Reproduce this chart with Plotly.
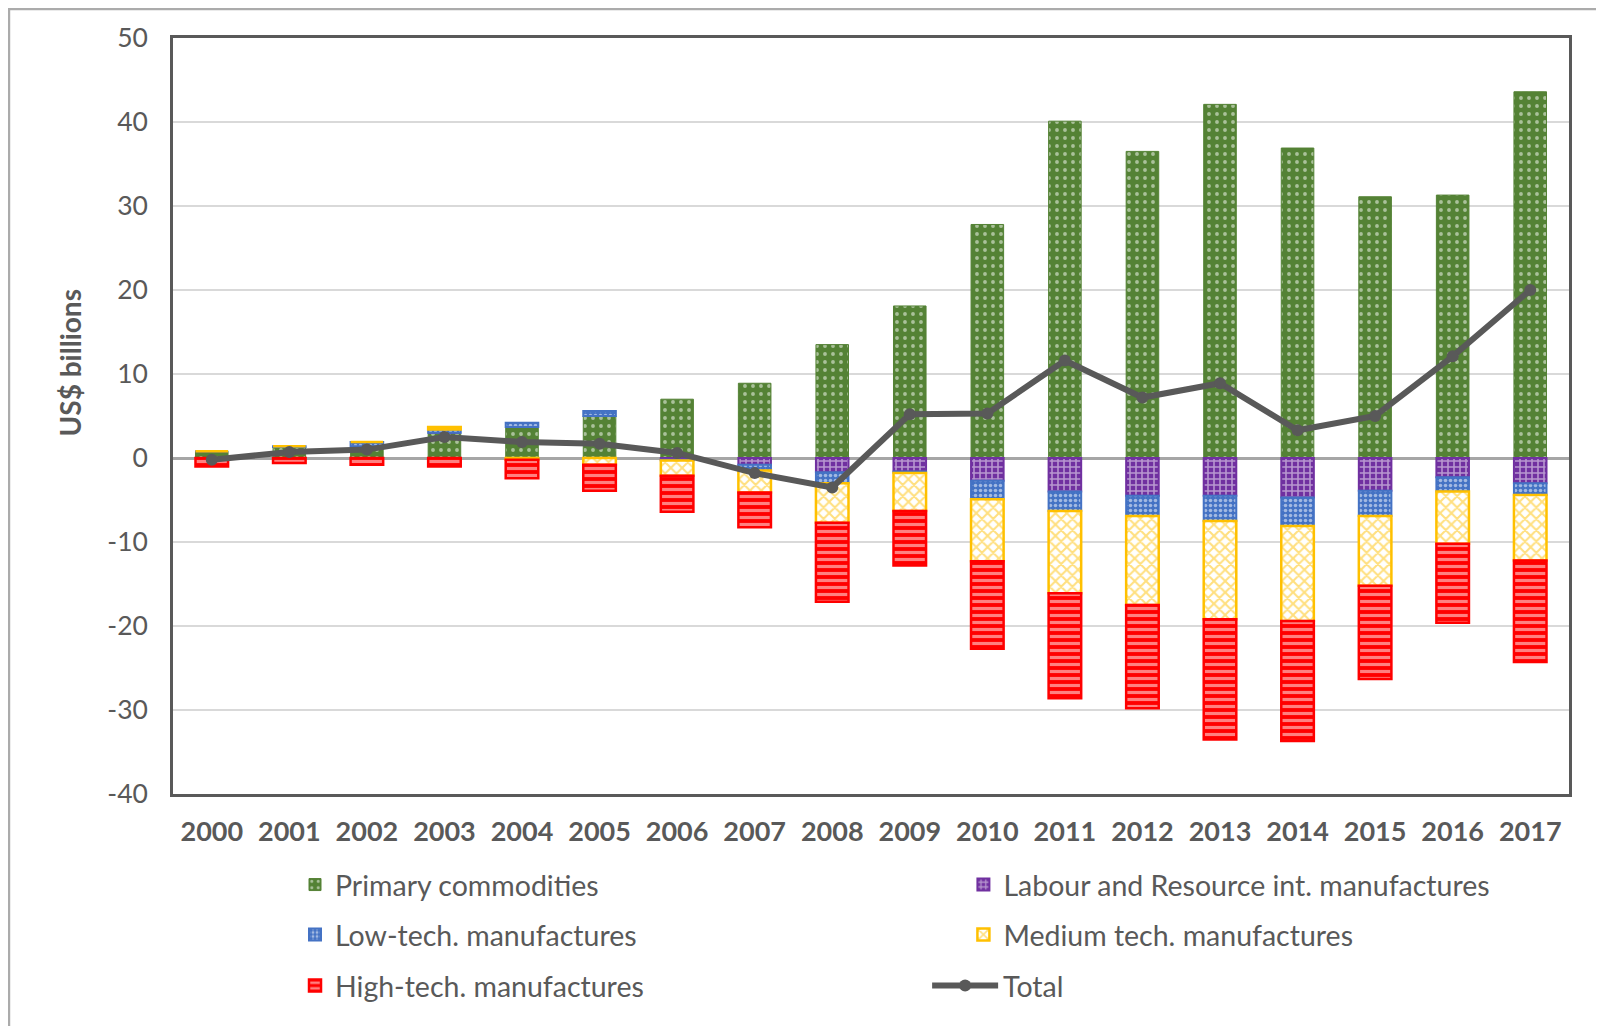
import plotly.graph_objects as go

years = [str(y) for y in range(2000, 2018)]

primary = [0.8, 1.3, 1.4, 3.0, 3.7, 5.0, 7.0, 8.9, 13.5, 18.1, 27.8, 40.1, 36.5, 42.1, 36.9, 31.1, 31.3, 43.6]
labour = [0.0, 0.0, 0.0, 0.0, 0.0, 0.0, -0.2, -0.8, -1.7, -1.6, -2.7, -4.0, -4.5, -4.5, -4.7, -3.9, -2.3, -3.0]
lowtech = [0.0, 0.1, 0.5, 0.4, 0.5, 0.6, -0.1, -0.7, -1.3, -0.2, -2.2, -2.3, -2.4, -3.0, -3.4, -3.0, -1.7, -1.4]
medium = [0.0, 0.0, 0.0, 0.3, -0.2, -0.8, -1.8, -2.6, -4.7, -4.5, -7.4, -9.8, -10.6, -11.7, -11.3, -8.3, -6.2, -7.8]
hightech = [-1.0, -0.6, -0.8, -1.0, -2.2, -3.1, -4.3, -4.15, -9.4, -6.5, -10.4, -12.5, -12.3, -14.3, -14.3, -11.1, -9.4, -12.1]
total = [-0.2, 0.7, 1.0, 2.5, 1.9, 1.7, 0.6, -1.8, -3.5, 5.2, 5.3, 11.6, 7.2, 8.9, 3.3, 5.0, 12.1, 20.0]

y_tickvals = [50, 40, 30, 20, 10, 0, -10, -20, -30, -40]
y_ticktext = ["50", "40", "30", "20", "10", "0", "-10", "-20", "-30", "-40"]

FONT = "Lato"
GREY = "#595959"

fig = go.Figure()

fig.add_trace(go.Bar(
    x=years, y=primary, name="Primary commodities", legend="legend",
    marker=dict(color="#548235", line=dict(color="#548235", width=1),
                pattern=dict(shape=".", fgcolor="white", size=8, solidity=0.18)),
))
fig.add_trace(go.Bar(
    x=years, y=labour, name="Labour and Resource int. manufactures", legend="legend2",
    marker=dict(color="#7030A0", line=dict(color="#7030A0", width=2),
                pattern=dict(shape="+", fgcolor="white", size=6, solidity=0.45)),
))
fig.add_trace(go.Bar(
    x=years, y=lowtech, name="Low-tech. manufactures", legend="legend3",
    marker=dict(color="#4472C4", line=dict(color="#4472C4", width=2),
                pattern=dict(shape=".", fgcolor="white", size=5, solidity=0.4)),
))
fig.add_trace(go.Bar(
    x=years, y=medium, name="Medium tech. manufactures", legend="legend4",
    marker=dict(color="#FFC000", line=dict(color="#FFC000", width=2.5),
                pattern=dict(shape="x", fgcolor="#FFC000", bgcolor="white", size=8, solidity=0.45)),
))
fig.add_trace(go.Bar(
    x=years, y=hightech, name="High-tech. manufactures", legend="legend5",
    marker=dict(color="#FF0000", line=dict(color="#FF0000", width=2.5),
                pattern=dict(shape="-", fgcolor="white", size=7, solidity=0.45)),
))
fig.add_trace(go.Scatter(
    x=years, y=total, name="Total", legend="legend6", mode="lines+markers",
    line=dict(color=GREY, width=6), marker=dict(color=GREY, size=12),
))

COL1 = 0.0874
COL2 = 0.5662
ROW1, ROW2, ROW3 = -0.1204, -0.1865, -0.254


def leg(x, y, iw=30):
    return dict(orientation="h", xanchor="left", yanchor="middle", x=x, y=y,
                font=dict(family=FONT, size=28.5, color=GREY),
                bgcolor="rgba(0,0,0,0)", itemwidth=iw)


fig.update_layout(
    width=1588, height=1018,
    margin=dict(l=165, r=27, t=30, b=232),
    paper_bgcolor="white", plot_bgcolor="white",
    barmode="relative", bargap=0.58,
    font=dict(family=FONT, color=GREY),
    showlegend=True,
    legend=leg(COL1, ROW1),
    legend2=leg(COL2, ROW1),
    legend3=leg(COL1, ROW2),
    legend4=leg(COL2, ROW2),
    legend5=leg(COL1, ROW3),
    legend6=leg(COL2 - 0.026, ROW3, iw=66),
    xaxis=dict(
        type="category", range=[-0.5, len(years) - 0.5],
        showline=True, mirror=True, linecolor=GREY, linewidth=2.5,
        ticks="", showgrid=False,
        tickfont=dict(family=FONT, size=27, color=GREY, weight="bold"),
        ticklabelstandoff=12,
    ),
    yaxis=dict(
        range=[-40, 50], tickvals=y_tickvals, ticktext=y_ticktext,
        showline=True, mirror=True, linecolor=GREY, linewidth=2.5,
        ticks="", showgrid=True, gridcolor="#D9D9D9", gridwidth=1.5,
        zeroline=True, zerolinecolor="#A6A6A6", zerolinewidth=2.5,
        tickfont=dict(family=FONT, size=26.5, color=GREY),
        ticklabelstandoff=17,
    ),
    annotations=[dict(text="US$ billions", textangle=-90, showarrow=False,
                      xref="paper", yref="paper", x=-0.0735, y=0.570,
                      xanchor="center", yanchor="middle",
                      font=dict(family=FONT, size=28, color=GREY, weight="bold"))],
    shapes=[dict(type="rect", xref="paper", yref="paper",
                 x0=-0.1175, x1=1.08, y0=-0.36, y1=1.0384,
                 line=dict(color="#ABABAB", width=2.5), layer="below")],
)

fig.write_html("out.html")
